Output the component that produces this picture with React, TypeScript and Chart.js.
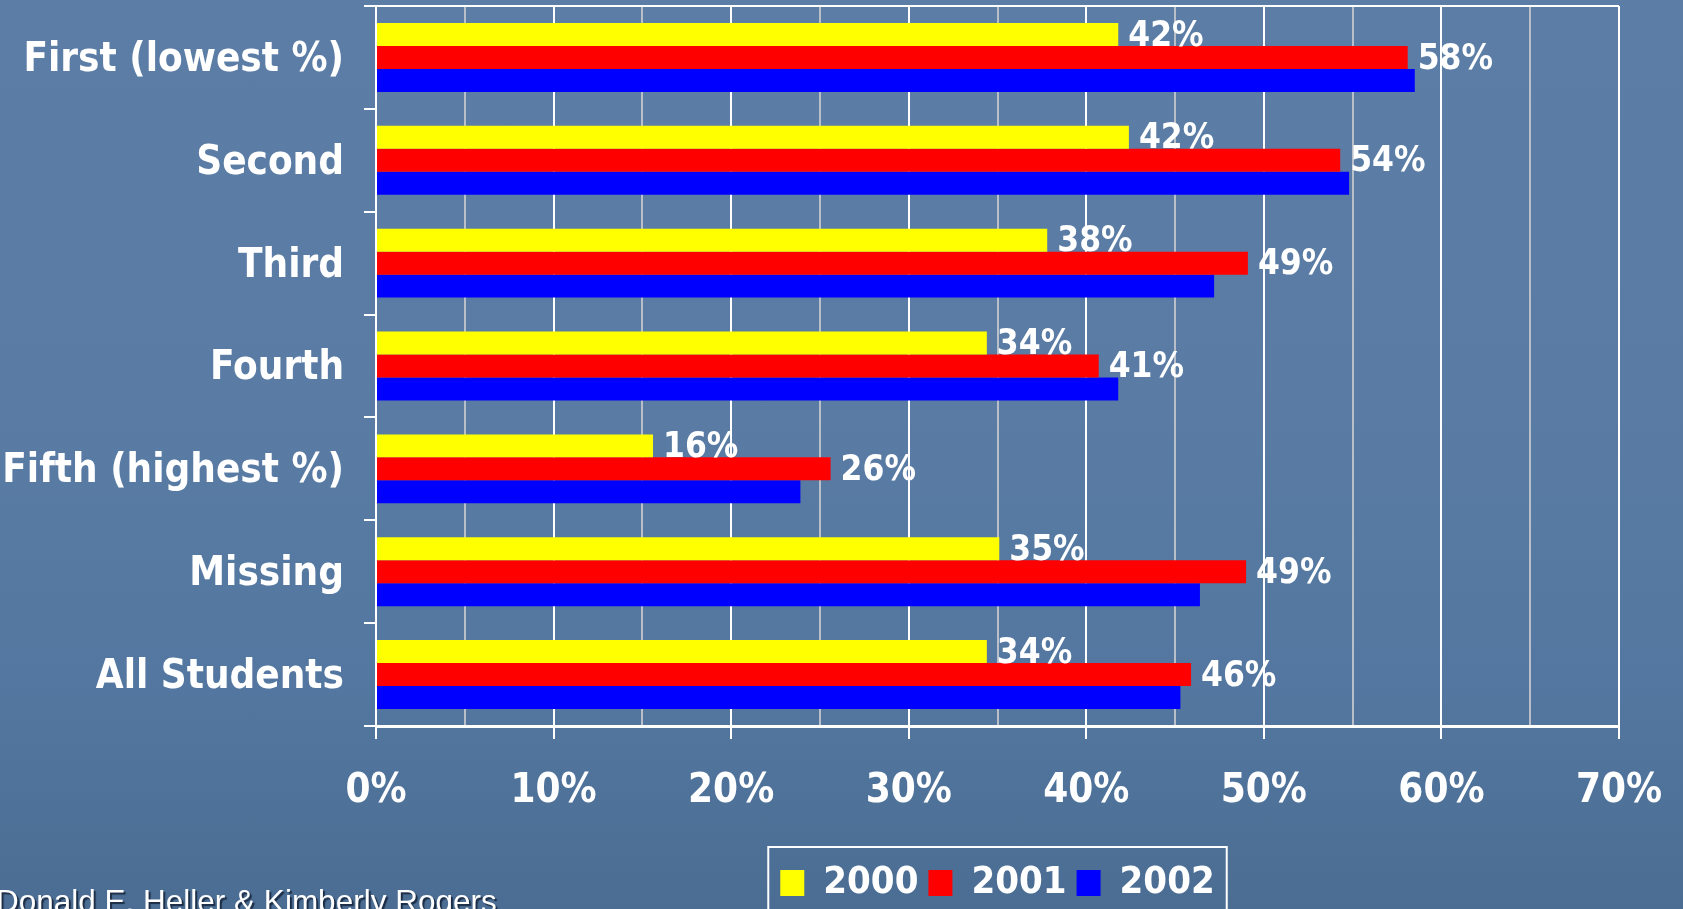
import React, { useEffect, useRef } from 'react';
import { Chart, registerables } from 'chart.js';

Chart.register(...registerables);

const categories = ['First (lowest %)', 'Second', 'Third', 'Fourth', 'Fifth (highest %)', 'Missing', 'All Students'];
const seriesNames = ['2000', '2001', '2002'];
const values2000 = [41.8, 42.4, 37.8, 34.4, 15.6, 35.1, 34.4];
const values2001 = [58.1, 54.3, 49.1, 40.7, 25.6, 49.0, 45.9];
const values2002 = [58.5, 54.8, 47.2, 41.8, 23.9, 46.4, 45.3];
const seriesColors = ['#ffff00', '#ff0000', '#0000ff'];
const labelledSeries = [0, 1];
const xMin = 0;
const xMax = 70;
const xStep = 5;
const xLabelStep = 10;
const footer = 'Donald E. Heller & Kimberly Rogers';

const W = 1683;
const H = 912;
const FONT = '"DejaVu Sans Condensed", "DejaVu Sans", sans-serif';

const valueLabels = {
  id: 'valueLabels',
  afterDatasetsDraw(chart: any) {
    const ctx = chart.ctx;
    ctx.save();
    ctx.font = `bold 35px ${FONT}`;
    ctx.fillStyle = '#ffffff';
    ctx.textAlign = 'left';
    ctx.textBaseline = 'middle';
    labelledSeries.forEach((di) => {
      const meta = chart.getDatasetMeta(di);
      meta.data.forEach((bar: any, i: number) => {
        const v = chart.data.datasets[di].data[i] as number;
        ctx.fillText(`${Math.round(v)}%`, bar.x + 10, bar.y + 2);
      });
    });
    ctx.restore();
  },
};

const legendBorder = {
  id: 'legendBorder',
  afterDraw(chart: any) {
    const lg = chart.legend;
    if (!lg || !lg.legendHitBoxes || !lg.legendHitBoxes.length) return;
    const boxes = lg.legendHitBoxes;
    const left = Math.min(...boxes.map((b: any) => b.left));
    const right = Math.max(...boxes.map((b: any) => b.left + b.width));
    const top = Math.min(...boxes.map((b: any) => b.top));
    const ctx = chart.ctx;
    ctx.save();
    ctx.strokeStyle = '#ffffff';
    ctx.lineWidth = 2;
    ctx.strokeRect(left - 12, top - 17, right - left + 24, H + 20 - (top - 17));
    ctx.restore();
  },
};

export default function App() {
  const ref = useRef<HTMLCanvasElement | null>(null);

  useEffect(() => {
    if (!ref.current) return;
    const data = [values2000, values2001, values2002];
    const chart = new Chart(ref.current, {
      type: 'bar',
      data: {
        labels: categories,
        datasets: seriesNames.map((name, i) => ({
          label: name,
          data: data[i],
          backgroundColor: seriesColors[i],
          borderWidth: 0,
          barPercentage: 1.0,
          categoryPercentage: 0.67,
        })),
      },
      options: {
        indexAxis: 'y',
        responsive: false,
        animation: false,
        layout: { padding: { top: 6, right: 64, left: 0, bottom: 0 } },
        plugins: {
          tooltip: { enabled: false },
          legend: {
            position: 'bottom',
            fullSize: false,
            labels: {
              color: '#ffffff',
              font: { family: FONT, size: 38, weight: 'bold' },
              boxWidth: 24,
              boxHeight: 26,
              padding: 10,
            },
          },
        },
        scales: {
          x: {
            min: xMin,
            max: xMax,
            afterFit: (scale: any) => {
              scale.height = 128;
              scale.paddingLeft = 0;
              scale.paddingRight = 0;
            },
            ticks: {
              stepSize: xStep,
              autoSkip: false,
              maxRotation: 0,
              color: '#ffffff',
              padding: 29,
              font: { family: FONT, size: 40, weight: 'bold' },
              callback: (v: any) => (Number(v) % xLabelStep === 0 ? `${v}%` : ''),
            },
            grid: {
              color: (c: any) => (c.tick && c.tick.value % xLabelStep === 0 ? '#ffffff' : '#b9bfc8'),
              lineWidth: 2,
              tickLength: 13,
              tickColor: (c: any) => (c.tick && c.tick.value % xLabelStep === 0 ? '#ffffff' : 'rgba(0,0,0,0)'),
            },
            border: { color: '#ffffff', width: 3 },
          },
          y: {
            afterFit: (scale: any) => {
              scale.width = 376;
              scale.paddingTop = 0;
              scale.paddingBottom = 0;
            },
            ticks: {
              color: '#ffffff',
              padding: 20,
              labelOffset: 3,
              font: { family: FONT, size: 40, weight: 'bold' },
            },
            grid: {
              offset: true,
              drawOnChartArea: true,
              color: (c: any) => (c.index === 0 ? '#ffffff' : 'rgba(0,0,0,0)'),
              lineWidth: 2,
              tickLength: 12,
              tickColor: '#ffffff',
            },
            border: { color: '#ffffff', width: 2 },
          },
        },
      },
      plugins: [valueLabels, legendBorder],
    });
    return () => chart.destroy();
  }, []);

  return (
    <div
      style={{
        position: 'fixed',
        left: 0,
        top: 0,
        width: W,
        height: 909,
        overflow: 'hidden',
        background: 'linear-gradient(180deg, #5c7ea6 0%, #5a7ca4 45%, #5377a0 75%, #4b6d93 100%)',
      }}
    >
      <canvas ref={ref} width={W} height={H} style={{ position: 'absolute', left: 0, top: 0, width: W, height: H }} />
      <div
        style={{
          position: 'absolute',
          left: -4,
          top: 883,
          fontFamily: '"Liberation Sans", Arial, sans-serif',
          fontSize: 31.5,
          color: '#ffffff',
          whiteSpace: 'nowrap',
          textShadow: '2px 2px 1px #1c2c44',
          lineHeight: 'normal',
        }}
      >
        {footer}
      </div>
    </div>
  );
}
